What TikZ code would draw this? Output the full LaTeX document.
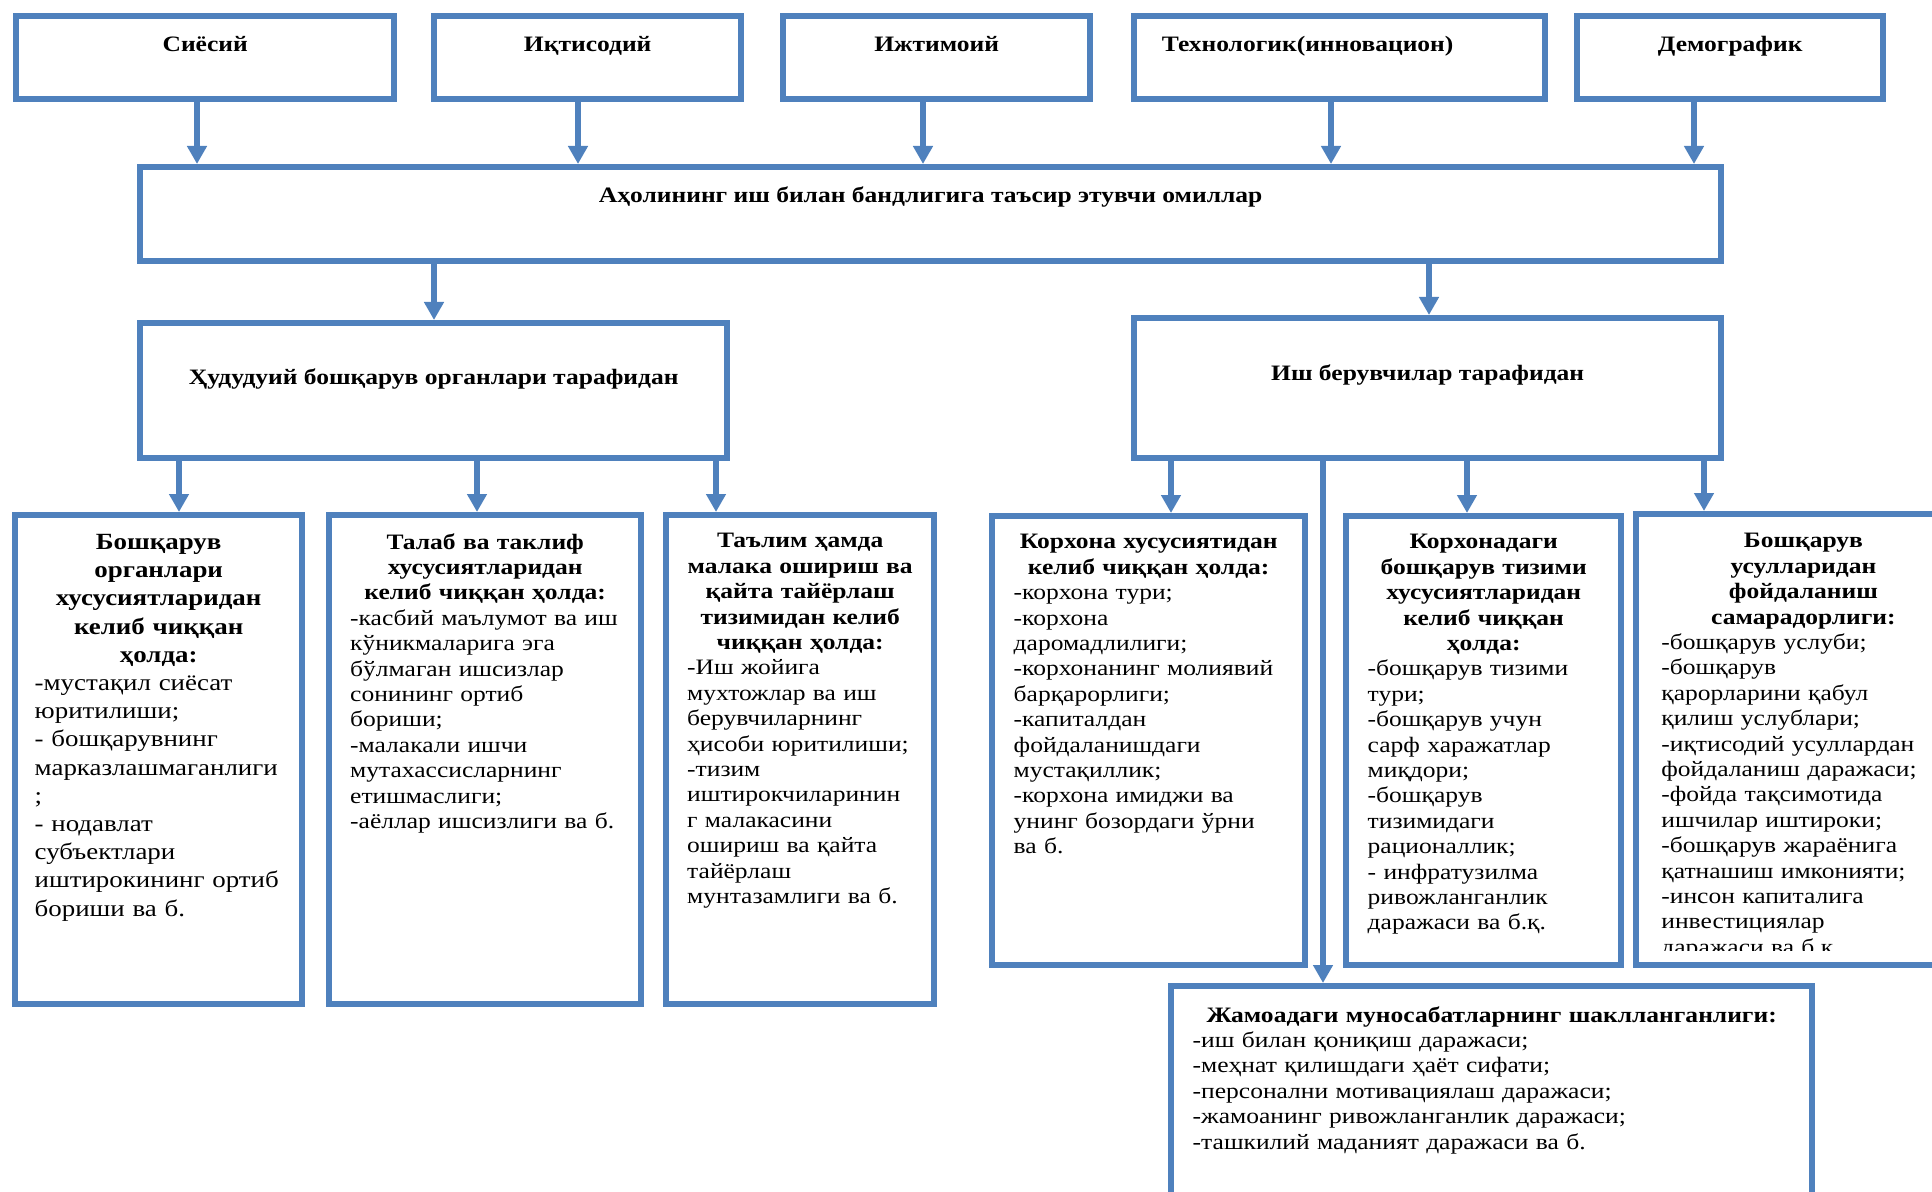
\documentclass[tikz,border=0pt]{standalone}
\usepackage{fontspec}
\setmainfont{Liberation Serif}[FakeStretch=1.16]
\usetikzlibrary{arrows.meta}
\definecolor{boxblue}{HTML}{4F81BD}

\begin{document}
\begin{tikzpicture}[x=0.5pt,y=-0.5pt,
    box/.style={draw=boxblue, line width=3.2pt, fill=white, inner sep=0pt, anchor=north west},
    head/.style={font=\bfseries\fontsize{11}{12.7}\selectfont, inner sep=0pt, anchor=base},
    txt/.style={font=\fontsize{11}{12.7}\selectfont, inner sep=0pt, text width=#1, align=left, anchor=north},
    arr/.style={draw=boxblue, line width=3pt, -{Triangle[width=9.5pt,length=9pt]}}]

\useasboundingbox (0,0) rectangle (1932,1192);
\clip (0,0) rectangle (1932,1192);

% omillar
\node[box, minimum width=189pt, minimum height=41.5pt] (siyosiy) at (13,13) {};
\node[box, minimum width=153.5pt, minimum height=41.5pt] (iqtisod) at (431,13) {};
\node[box, minimum width=153.5pt, minimum height=41.5pt] (ijtimoiy) at (780,13) {};
\node[box, minimum width=205.5pt, minimum height=41.5pt] (texno) at (1131,13) {};
\node[box, minimum width=153pt, minimum height=41.5pt] (demo) at (1574,13) {};

\node[head] (siyosiyt) at ([yshift=-19.5pt]siyosiy.north) {Сиёсий};
\node[head] (iqtisodt) at ([yshift=-19.5pt]iqtisod.north) {Иқтисодий};
\node[head] (ijtimoiyt) at ([yshift=-19.5pt]ijtimoiy.north) {Ижтимоий};
\node[head] (texnot) at ([xshift=-16pt,yshift=-19.5pt]texno.north) {Технологик(инновацион)};
\node[head] (demot) at ([yshift=-19.5pt]demo.north) {Демографик};

\node[box, minimum width=790.5pt, minimum height=47pt] (omil) at (137,164) {};
\node[head] (omilt) at ([yshift=-19.5pt]omil.north) {Аҳолининг иш билан бандлигига таъсир этувчи омиллар};

\node[box, minimum width=293.5pt, minimum height=67.5pt] (hudud) at (137,320) {};
\node[head] (hududt) at ([yshift=-32.5pt]hudud.north) {Ҳудудуий бошқарув органлари тарафидан};
\node[box, minimum width=293.5pt, minimum height=70pt] (ishber) at (1131,315) {};
\node[head] (ishbert) at ([yshift=-32.5pt]ishber.north) {Иш берувчилар тарафидан};

\draw[arr] (siyosiy.south -| 197,0) -- (omil.north -| 197,0);
\draw[arr] (iqtisod.south -| 578,0) -- (omil.north -| 578,0);
\draw[arr] (ijtimoiy.south -| 923,0) -- (omil.north -| 923,0);
\draw[arr] (texno.south -| 1331,0) -- (omil.north -| 1331,0);
\draw[arr] (demo.south -| 1694,0) -- (omil.north -| 1694,0);
\draw[arr] (omil.south -| 434,0) -- (hudud.north -| 434,0);
\draw[arr] (omil.south -| 1429,0) -- (ishber.north -| 1429,0);

% hududiy boshqaruv
\node[box, minimum width=143.5pt, minimum height=244.5pt] (b1) at (12,512) {};
\node[box, minimum width=156pt, minimum height=244.5pt] (b2) at (326,512) {};
\node[box, minimum width=134pt, minimum height=244.5pt] (b3) at (663,512) {};

\node[txt=124pt, font=\fontsize{11.6}{14.1}\selectfont] (b1t) at ([yshift=-11pt]b1.north) {%
  {\centering\bfseries Бошқарув\\ органлари\\ хусусиятларидан\\ келиб чиққан\\ ҳолда:\par}
  -мустақил сиёсат\\ юритилиши;\\ - бошқарувнинг\\ марказлашмаганлиги\\ ;\\ - нодавлат\\ субъектлари\\ иштирокининг ортиб\\ бориши ва б.};
\node[txt=135pt] (b2t) at ([yshift=-10.5pt]b2.north) {%
  {\centering\bfseries Талаб ва таклиф\\ хусусиятларидан\\ келиб чиққан ҳолда:\par}
  -касбий маълумот ва иш\\ кўникмаларига эга\\ бўлмаган ишсизлар\\ сонининг ортиб\\ бориши;\\ -малакали ишчи\\ мутахассисларнинг\\ етишмаслиги;\\ -аёллар ишсизлиги ва б.};
\node[txt=113pt] (b3t) at ([yshift=-10.5pt]b3.north) {%
  {\centering\bfseries Таълим ҳамда\\ малака ошириш ва\\ қайта тайёрлаш\\ тизимидан келиб\\ чиққан ҳолда:\par}
  -Иш жойига\\ мухтожлар ва иш\\ берувчиларнинг\\ ҳисоби юритилиши;\\ -тизим\\ иштирокчиларинин\\ г малакасини\\ ошириш ва қайта\\ тайёрлаш\\ мунтазамлиги ва б.};

\draw[arr] (hudud.south -| 179,0) -- (b1.north -| 179,0);
\draw[arr] (hudud.south -| 477,0) -- (b2.north -| 477,0);
\draw[arr] (hudud.south -| 716,0) -- (b3.north -| 716,0);

% ish beruvchilar
\node[box, minimum width=156.5pt, minimum height=224.5pt] (b4) at (989,513) {};
\node[box, minimum width=137.5pt, minimum height=224.5pt] (b5) at (1343,513) {};
\node[box, minimum width=163pt, minimum height=225.5pt] (b6) at (1633,511) {};
\node[box, minimum width=320.5pt, minimum height=120.5pt] (b7) at (1168,983) {};

\node[txt=135pt] (b4t) at ([yshift=-10.5pt]b4.north) {%
  {\centering\bfseries Корхона хусусиятидан\\ келиб чиққан ҳолда:\par}
  -корхона тури;\\ -корхона\\ даромадлилиги;\\ -корхонанинг молиявий\\ барқарорлиги;\\ -капиталдан\\ фойдаланишдаги\\ мустақиллик;\\ -корхона имиджи ва\\ унинг бозордаги ўрни\\ ва б.};
\node[txt=116pt] (b5t) at ([yshift=-10.5pt]b5.north) {%
  {\centering\bfseries Корхонадаги\\ бошқарув тизими\\ хусусиятларидан\\ келиб чиққан\\ ҳолда:\par}
  -бошқарув тизими\\ тури;\\ -бошқарув учун\\ сарф харажатлар\\ миқдори;\\ -бошқарув\\ тизимидаги\\ рационаллик;\\ - инфратузилма\\ ривожланганлик\\ даражаси ва б.қ.};
\begin{scope}
\clip (1640,518) rectangle (1932,950);
\node[txt=142pt, anchor=north west] (b6t) at (1661,533) {%
  {\centering\bfseries Бошқарув\\ усулларидан\\ фойдаланиш\\ самарадорлиги:\par}
  -бошқарув услуби;\\ -бошқарув\\ қарорларини қабул\\ қилиш услублари;\\ -иқтисодий усуллардан\\ фойдаланиш даражаси;\\ -фойда тақсимотида\\ ишчилар иштироки;\\ -бошқарув жараёнига\\ қатнашиш имконияти;\\ -инсон капиталига\\ инвестициялар\\ даражаси ва б.к.};
\end{scope}
\node[txt=299pt] (b7t) at ([yshift=-11.5pt]b7.north) {%
  {\centering\bfseries Жамоадаги муносабатларнинг шаклланганлиги:\par}
  -иш билан қониқиш даражаси;\\ -меҳнат қилишдаги ҳаёт сифати;\\ -персонални мотивациялаш даражаси;\\ -жамоанинг ривожланганлик даражаси;\\ -ташкилий маданият даражаси ва б.};

\draw[arr] (ishber.south -| 1171,0) -- (b4.north -| 1171,0);
\draw[arr] (ishber.south -| 1323,0) -- (b7.north -| 1323,0);
\draw[arr] (ishber.south -| 1467,0) -- (b5.north -| 1467,0);
\draw[arr] (ishber.south -| 1704,0) -- (b6.north -| 1704,0);

\end{tikzpicture}
\end{document}
